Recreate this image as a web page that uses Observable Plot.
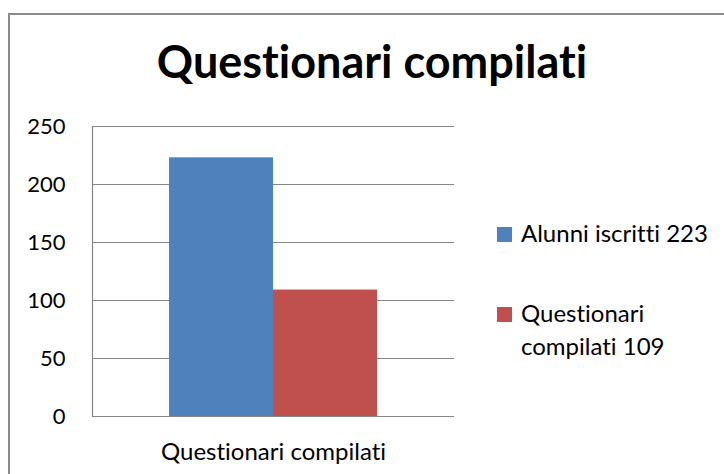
<!DOCTYPE html>
<html>
<head>
<meta charset="utf-8">
<script src="https://cdn.jsdelivr.net/npm/d3@7"></script>
<script src="https://cdn.jsdelivr.net/npm/@observablehq/plot@0.6"></script>
<style>
  html, body { margin: 0; padding: 0; background: #fff; }
  #wrap { position: relative; width: 724px; height: 474px; overflow: hidden; font-family: Lato, "Open Sans", sans-serif; color: #000; font-variant-ligatures: none; font-feature-settings: "liga" 0, "clig" 0; }
  #wrap svg, #wrap svg text { font-variant-ligatures: none; font-feature-settings: "liga" 0, "clig" 0; }
  #border { position: absolute; left: 8px; top: 13px; width: 800px; height: 600px; border: 2px solid #8a8a8a; box-sizing: border-box; }
  #title { position: absolute; left: 0; width: 744px; top: 36px; text-align: center; font-weight: bold; font-size: 45px; line-height: 50px; }
  #chart { position: absolute; left: 0; top: 100px; }
  .leg { position: absolute; left: 497px; font-size: 24px; line-height: 33px; }
  .leg .sw { position: absolute; left: 0; top: 11px; width: 15px; height: 15px; }
  .leg .tx { position: absolute; left: 24px; top: 0; width: 205px; }
</style>
</head>
<body>
<div id="wrap">
  <div id="border"></div>
  <div id="title"></div>
  <div id="chart"></div>
</div>
<script>
const title = "Questionari compilati";
const category = "Questionari compilati";
const series = ["Alunni iscritti 223", "Questionari compilati 109"];
const values = [223, 109];
const colors = ["#4F81BD", "#C0504D"];
const yTicks = [0, 50, 100, 150, 200, 250];

const data = series.map((s, i) => ({series: s, value: values[i], category}));

document.getElementById("title").textContent = title;

const chart = Plot.plot({
  width: 724,
  height: 374,
  marginTop: 26,
  marginBottom: 58,
  marginLeft: 92,
  marginRight: 270,
  style: {fontFamily: "Lato, 'Open Sans', sans-serif", fontSize: "22px", color: "#000", background: "transparent"},
  x: {domain: series, paddingInner: 0, paddingOuter: 0.74, axis: null},
  y: {domain: [0, 250], axis: null},
  color: {domain: series, range: colors},
  marks: [
    Plot.ruleY(yTicks, {stroke: "#868686", strokeWidth: 1.2}),
    Plot.frame({anchor: "left", stroke: "#868686", strokeWidth: 1.2}),
    Plot.barY(data, {x: "series", y: "value", fill: "series"}),
    Plot.axisY(yTicks, {tickSize: 0, tickPadding: 27, fontSize: 22, label: null, fill: "#000"}),
    Plot.text([category], {frameAnchor: "bottom", dy: 36, fontSize: 24, fill: "#000", lineAnchor: "middle"})
  ]
});
document.getElementById("chart").appendChild(chart);

// legend
const legTops = [216, 296];
const wrap = document.getElementById("wrap");
series.forEach((s, i) => {
  const d = document.createElement("div");
  d.className = "leg";
  d.style.top = legTops[i] + "px";
  d.innerHTML = `<div class="sw" style="background:${colors[i]}"></div><div class="tx">${s}</div>`;
  wrap.appendChild(d);
});
</script>
</body>
</html>
